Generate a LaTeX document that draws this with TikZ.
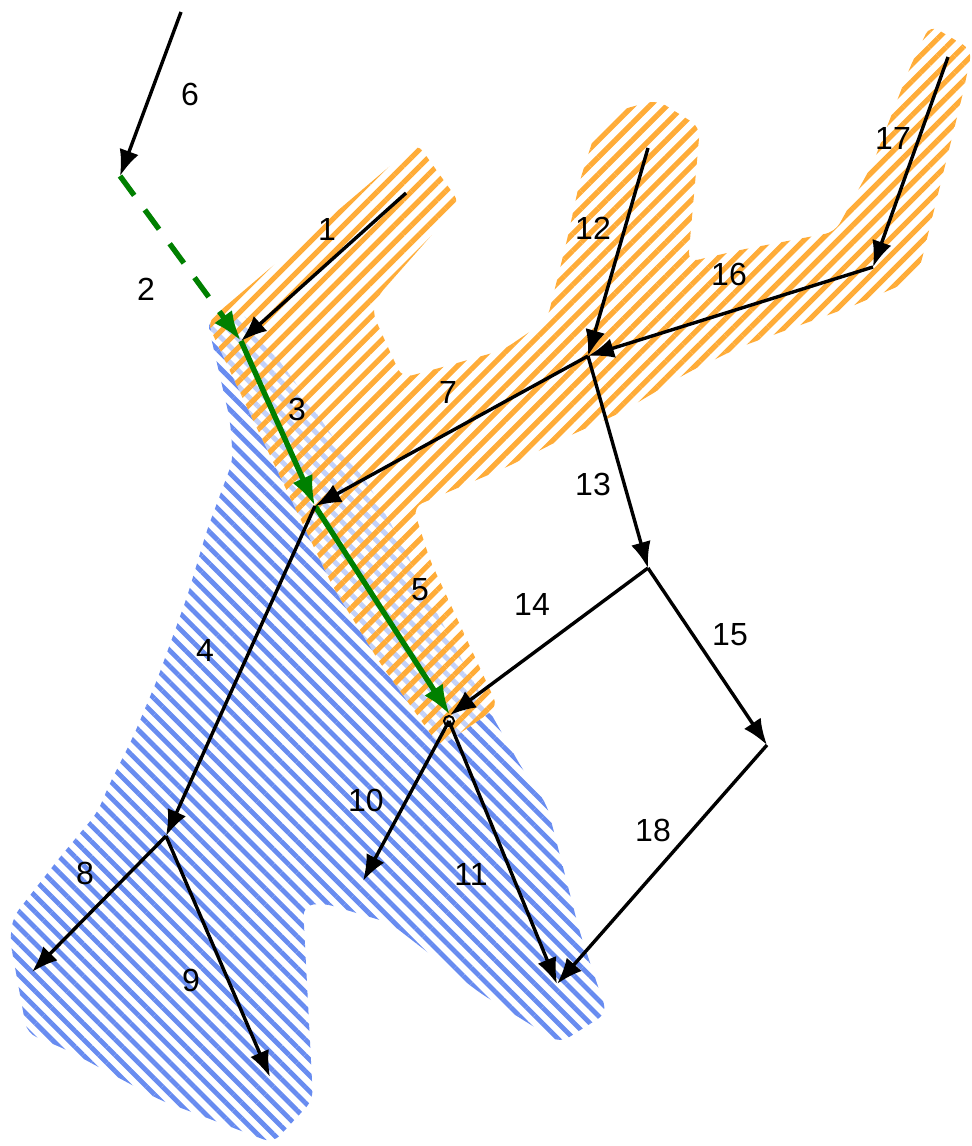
\documentclass[tikz,border=0pt]{standalone}
\usepackage{fontspec}
\setmainfont{Liberation Sans}
\usetikzlibrary{arrows.meta,patterns.meta}

\definecolor{upcolor}{RGB}{255,172,56}
\definecolor{downcolor}{RGB}{104,140,240}
\definecolor{stemcolor}{RGB}{0,128,0}

\begin{document}
\begin{tikzpicture}[x=0.5pt,y=-0.5pt,
		font=\fontsize{16}{19}\selectfont,
		link/.style={line width=1.7pt,-{Latex[length=13pt,width=10pt]}},
		stem/.style={line width=2.7pt,draw=stemcolor,-{Latex[length=15pt,width=11pt]}},
		upzone/.style={pattern={Lines[angle=45,distance=6pt,line width=2.6pt]},pattern color=upcolor},
		downzone/.style={pattern={Lines[angle=-45,distance=5.6pt,line width=2.4pt]},pattern color=downcolor},
	]
		\useasboundingbox (0,0) rectangle (971,1146);

		% downstream area
		\fill[downzone,rounded corners=5pt]
			(207,320) -- (242,312) -- (290,375) -- (335,440) -- (370,487) -- (400,540)
			-- (430,600) -- (462,660) -- (490,712) -- (523,770) -- (547,805) -- (580,933)
			-- (607,1013) -- (560,1043) -- (480,993) -- (390,923) -- (323,903) -- (303,906)
			-- (313,1100) -- (273,1143) -- (160,1100) -- (67,1050) -- (27,1033) -- (10,940)
			-- (13,917) -- (60,857) -- (97,813) -- (110,783) -- (133,737) -- (157,680)
			-- (187,597) -- (207,530) -- (233,460) -- (230,420) -- cycle;

		% upstream area
		\fill[upzone,rounded corners=5pt,preaction={fill=white,fill opacity=.6}]
			(417,143) -- (460,203) -- (377,297) -- (372,312) -- (402,378) -- (443,367)
			-- (503,350) -- (547,320) -- (567,240) -- (580,180) -- (597,127) -- (620,110)
			-- (657,100) -- (700,127) -- (688,262) -- (740,250) -- (835,232) -- (873,163)
			-- (910,67) -- (930,25) -- (972,50) -- (963,93) -- (920,267) -- (913,280)
			-- (850,307) -- (740,347) -- (687,373) -- (620,413) -- (560,440) -- (507,467)
			-- (413,507) -- (430,560) -- (498,707) -- (440,747) -- (380,663) -- (333,587)
			-- (253,420) -- (207,322) -- cycle;

		\path
			(181,  12) coordinate (src6)
			(120, 176) coordinate (gap)
			(406, 193) coordinate (src1)
			(241, 341) coordinate (head)
			(315, 506) coordinate (mid)
			(450, 715) coordinate (tail)
			(449, 721) coordinate (outlet)
			(588, 356) coordinate (fork)
			(648, 148) coordinate (src12)
			(873, 267) coordinate (bend)
			(948,  57) coordinate (src17)
			(648, 568) coordinate (split)
			(767, 745) coordinate (corner)
			(557, 984) coordinate (sink)
			(363, 881) coordinate (end10)
			(166, 836) coordinate (low)
			( 32, 972) coordinate (end8)
			(270,1077) coordinate (end9)
		;

		\path
			(190,  94) node (l6)  {6}
			(146, 289) node (l2)  {2}
			(327, 229) node (l1)  {1}
			(297, 409) node (l3)  {3}
			(448, 392) node (l7)  {7}
			(593, 228) node (l12) {12}
			(729, 274) node (l16) {16}
			(893, 138) node (l17) {17}
			(593, 484) node (l13) {13}
			(420, 590) node (l5)  {5}
			(532, 604) node (l14) {14}
			(730, 635) node (l15) {15}
			(205, 650) node (l4)  {4}
			(366, 800) node (l10) {10}
			(471, 874) node (l11) {11}
			(653, 830) node (l18) {18}
			( 85, 873) node (l8)  {8}
			(191, 980) node (l9)  {9}
		;

		\draw[link]                         (src6)   -- (gap);
		\draw[stem,dash pattern=on 12pt off 9pt] (gap) -- (head);
		\draw[link]                         (src1)   -- (head);
		\draw[stem]                         (head)   -- (mid);
		\draw[stem]                         (mid)    -- (tail);
		\draw[link]                         (fork)   -- (mid);
		\draw[link]                         (src12)  -- (fork);
		\draw[link]                         (bend)   -- (fork);
		\draw[link]                         (src17)  -- (bend);
		\draw[link]                         (fork)   -- (split);
		\draw[link]                         (split)  -- (tail);
		\draw[link]                         (split)  -- (corner);
		\draw[link]                         (corner) -- (sink);
		\draw[line width=1pt]               (outlet) circle (5);
		\draw[link]                         (outlet) -- (sink);
		\draw[link]                         (outlet) -- (end10);
		\draw[link]                         (mid)    -- (low);
		\draw[link]                         (low)    -- (end8);
		\draw[link]                         (low)    -- (end9);
	\end{tikzpicture}
\end{document}
